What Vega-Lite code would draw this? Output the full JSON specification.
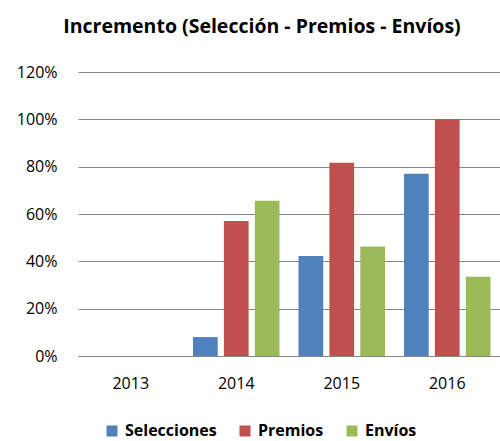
{
  "$schema": "https://vega.github.io/schema/vega-lite/v6.json",
  "width": 422,
  "height": 284,
  "autosize": {"type": "none"},
  "padding": {"left": 78, "top": 72, "right": 0, "bottom": 85},
  "background": "white",
  "title": {
    "text": "Incremento (Selección - Premios - Envíos)",
    "font": "Open Sans",
    "fontSize": 19.5,
    "fontWeight": "bold",
    "color": "#000000",
    "anchor": "middle",
    "dx": -27,
    "offset": 27
  },
  "data": {
    "values": [
      {"year": "2013", "serie": "Selecciones", "value": 0},
      {"year": "2013", "serie": "Premios", "value": 0},
      {"year": "2013", "serie": "Envíos", "value": 0},
      {"year": "2014", "serie": "Selecciones", "value": 0.08},
      {"year": "2014", "serie": "Premios", "value": 0.57},
      {"year": "2014", "serie": "Envíos", "value": 0.656},
      {"year": "2015", "serie": "Selecciones", "value": 0.423},
      {"year": "2015", "serie": "Premios", "value": 0.817},
      {"year": "2015", "serie": "Envíos", "value": 0.463},
      {"year": "2016", "serie": "Selecciones", "value": 0.77},
      {"year": "2016", "serie": "Premios", "value": 1.0},
      {"year": "2016", "serie": "Envíos", "value": 0.335}
    ]
  },
  "mark": {"type": "bar"},
  "encoding": {
    "x": {
      "field": "year",
      "type": "nominal",
      "scale": {"domain": ["2013", "2014", "2015", "2016"], "paddingInner": 0.18, "paddingOuter": 0.09},
      "axis": {
        "title": null,
        "labelAngle": 0,
        "labelFont": "Open Sans",
        "labelFontSize": 16,
        "labelColor": "#000000",
        "labelPadding": 19,
        "ticks": false,
        "domain": true,
        "domainColor": "#868686",
        "domainWidth": 1
      }
    },
    "xOffset": {
      "field": "serie",
      "type": "nominal",
      "sort": ["Selecciones", "Premios", "Envíos"],
      "scale": {"paddingInner": 0.2, "paddingOuter": 0}
    },
    "y": {
      "field": "value",
      "type": "quantitative",
      "scale": {"domain": [0, 1.2]},
      "axis": {
        "title": null,
        "format": ".0%",
        "values": [0, 0.2, 0.4, 0.6, 0.8, 1.0, 1.2],
        "labelFont": "Open Sans",
        "labelFontSize": 16,
        "labelColor": "#000000",
        "labelPadding": 21,
        "ticks": false,
        "domain": false,
        "grid": true,
        "gridColor": "#868686",
        "gridWidth": 1
      }
    },
    "color": {
      "field": "serie",
      "type": "nominal",
      "sort": ["Selecciones", "Premios", "Envíos"],
      "scale": {
        "domain": ["Selecciones", "Premios", "Envíos"],
        "range": ["#4F81BD", "#C0504D", "#9BBB59"]
      },
      "legend": {
        "title": null,
        "orient": "none",
        "direction": "horizontal",
        "legendX": 26,
        "legendY": 351,
        "symbolType": "square",
        "symbolSize": 121,
        "symbolStrokeWidth": 0,
        "labelFont": "Open Sans",
        "labelFontSize": 16,
        "labelFontWeight": "bold",
        "labelColor": "#000000",
        "labelOffset": 5,
        "columnPadding": 20
      }
    }
  },
  "config": {"view": {"stroke": null}}
}
